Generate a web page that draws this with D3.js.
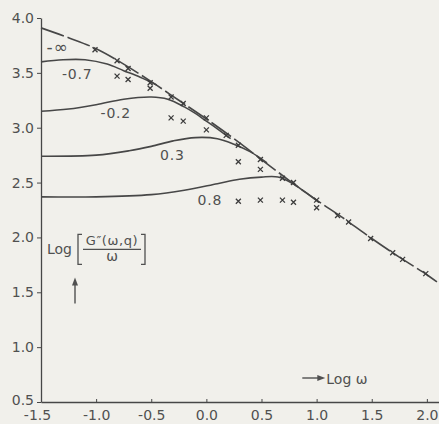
<!DOCTYPE html>
<html>
<head>
<meta charset="utf-8">
<script src="https://cdn.jsdelivr.net/npm/d3@7"></script>
<style>
  html, body { margin: 0; padding: 0; background: #f1f0eb; }
  svg { display: block; }
  text { font-family: "DejaVu Sans", sans-serif; fill: #505050; }
</style>
</head>
<body>
<svg id="chart" width="439" height="424"></svg>
<script>
// ---- data ----
const xTicks = [-1.5, -1.0, -0.5, 0.0, 0.5, 1.0, 1.5, 2.0];
const xTickLabels = ["-1.5", "-1.0", "-0.5", "0.0", "0.5", "1.0", "1.5", "2.0"];
const yTicks = [0.5, 1.0, 1.5, 2.0, 2.5, 3.0, 3.5, 4.0];
const yTickLabels = ["0.5", "1.0", "1.5", "2.0", "2.5", "3.0", "3.5", "4.0"];

// q = -infinity, broken line
const limitX = [-1.5, -1.25, -1.0, -0.75, -0.5, -0.25, 0.0, 0.25, 0.5, 0.75, 1.0, 1.25, 1.5, 1.75, 2.0, 2.11];
const limitY = [3.91, 3.82, 3.72, 3.58, 3.42, 3.25, 3.08, 2.90, 2.71, 2.52, 2.34, 2.17, 1.99, 1.82, 1.66, 1.58];

// solid curves, one per q
const qM07X = [-1.5, -1.3, -1.1, -0.9, -0.75, -0.6, -0.45];
const qM07Y = [3.60, 3.62, 3.62, 3.58, 3.52, 3.46, 3.39];
const qM02X = [-1.5, -1.25, -1.0, -0.75, -0.5, -0.35, -0.2, -0.1, 0.0, 0.1, 0.22];
const qM02Y = [3.15, 3.17, 3.21, 3.26, 3.28, 3.26, 3.19, 3.13, 3.06, 2.99, 2.90];
const q03X = [-1.5, -1.0, -0.7, -0.5, -0.3, -0.1, 0.1, 0.25, 0.4, 0.55];
const q03Y = [2.74, 2.75, 2.79, 2.83, 2.88, 2.91, 2.90, 2.85, 2.78, 2.68];
const q08X = [-1.5, -1.0, -0.5, -0.2, 0.1, 0.3, 0.5, 0.65, 0.8, 0.9, 1.02];
const q08Y = [2.37, 2.37, 2.39, 2.43, 2.49, 2.53, 2.55, 2.55, 2.48, 2.41, 2.32];

const curveNames = ["-0.7", "-0.2", "0.3", "0.8"];

// measured points (crosses)
const markX = [-1.01, -0.81, -0.71, -0.81, -0.71, -0.51, -0.51, -0.32, -0.21, -0.32, -0.21, 0.0, 0.0,
  0.18, 0.29, 0.29, 0.49, 0.49, 0.69, 0.79, 0.29, 0.49, 0.69, 0.79, 1.0, 1.0, 1.19, 1.29, 1.49, 1.69, 1.78, 1.99];
const markY = [3.71, 3.61, 3.54, 3.47, 3.44, 3.41, 3.36, 3.28, 3.22, 3.09, 3.06, 3.09, 2.98,
  2.93, 2.84, 2.69, 2.71, 2.62, 2.54, 2.50, 2.33, 2.34, 2.34, 2.32, 2.34, 2.27, 2.20, 2.14, 1.99, 1.86, 1.80, 1.67];

// ---- drawing ----
const ink = "#474747";
const textInk = "#505050";
const svg = d3.select("#chart");

const x = d3.scaleLinear().domain([-1.5, 2.11]).range([41, 439]);
const y = d3.scaleLinear().domain([0.5, 4.0]).range([402, 18]);

const zip = (xs, ys) => xs.map((v, i) => [v, ys[i]]);

// axes
const xAxis = svg.append("g")
	.attr("transform", "translate(0," + y(0.5) + ")")
	.call(d3.axisBottom(x)
		.tickValues(xTicks)
		.tickFormat((d, i) => xTickLabels[i])
		.tickSizeInner(-3)
		.tickSizeOuter(0)
		.tickPadding(10));
xAxis.select(".domain").attr("stroke", ink).attr("stroke-width", 1.3);
xAxis.selectAll(".tick line").attr("stroke", ink);
xAxis.selectAll(".tick text")
	.attr("font-size", "14px")
	.attr("font-family", "DejaVu Sans")
	.attr("fill", textInk)
	.attr("dx", (d, i) => i === 0 ? -4 : 0)
	.attr("dy", "0.6em");

const yAxis = svg.append("g")
	.attr("transform", "translate(" + x(-1.5) + ",0)")
	.call(d3.axisLeft(y)
		.tickValues(yTicks)
		.tickFormat((d, i) => yTickLabels[i])
		.tickSizeInner(4)
		.tickSizeOuter(0)
		.tickPadding(3));
yAxis.select(".domain").attr("stroke", ink).attr("stroke-width", 1.3);
yAxis.selectAll(".tick line").attr("stroke", ink);
yAxis.selectAll(".tick text")
	.attr("font-size", "14px")
	.attr("font-family", "DejaVu Sans")
	.attr("fill", textInk)
	.attr("dy", (d, i) => i === 0 ? "0.2em" : "0.32em");

// lines
const line = d3.line()
	.x(d => x(d[0]))
	.y(d => y(d[1]))
	.curve(d3.curveCatmullRom.alpha(0.5));

svg.append("path")
	.datum(zip(limitX, limitY))
	.attr("d", line)
	.attr("fill", "none")
	.attr("stroke", ink)
	.attr("stroke-width", 1.6)
	.attr("stroke-dasharray", "24,4");

const curves = [zip(qM07X, qM07Y), zip(qM02X, qM02Y), zip(q03X, q03Y), zip(q08X, q08Y)];
svg.append("g").selectAll("path")
	.data(curves)
	.enter().append("path")
		.attr("d", line)
		.attr("fill", "none")
		.attr("stroke", ink)
		.attr("stroke-width", 1.6);

// crosses
const s = 2.5;
svg.append("g").selectAll("path")
	.data(zip(markX, markY))
	.enter().append("path")
		.attr("d", d => {
			const cx = x(d[0]), cy = y(d[1]);
			return "M" + (cx - s) + "," + (cy - s) + "L" + (cx + s) + "," + (cy + s) +
				"M" + (cx - s) + "," + (cy + s) + "L" + (cx + s) + "," + (cy - s);
		})
		.attr("stroke", "#3c3c3c")
		.attr("stroke-width", 1.3);

// curve labels (anchored in data units, below-left of each curve)
const labelAt = [[-1.31, 3.44], [-0.96, 3.09], [-0.42, 2.71], [-0.08, 2.30]];
svg.append("g").selectAll("text")
	.data(curveNames)
	.enter().append("text")
		.attr("x", (d, i) => x(labelAt[i][0]))
		.attr("y", (d, i) => y(labelAt[i][1]))
		.attr("font-size", "14px")
		.attr("letter-spacing", "0.8px")
		.text(d => d);

svg.append("text")
	.attr("x", x(-1.45))
	.attr("y", y(3.68))
	.attr("font-size", "17px")
	.attr("letter-spacing", "1px")
	.text("-\u221e");

// y label: Log [ G''(w,q) / w ] with arrow
const yl = svg.append("g").attr("transform", "translate(" + x(-1.5) + "," + y(2.0) + ")");
yl.append("text").attr("x", 6).attr("y", 17).attr("font-size", "14px").text("Log");
yl.append("path")
	.attr("d", "M41,-3 h-4 v30 h4 M100,-3 h4 v30 h-4")
	.attr("fill", "none").attr("stroke", textInk).attr("stroke-width", 1.3);
yl.append("text").attr("x", 71).attr("y", 8).attr("text-anchor", "middle")
	.attr("font-size", "13px").attr("letter-spacing", "0.6px").text("G\u2033(\u03c9,q)");
yl.append("line").attr("x1", 42).attr("x2", 100).attr("y1", 12).attr("y2", 12)
	.attr("stroke", textInk).attr("stroke-width", 1.2);
yl.append("text").attr("x", 71).attr("y", 24).attr("text-anchor", "middle")
	.attr("font-size", "14px").text("\u03c9");
yl.append("line").attr("x1", 34).attr("x2", 34).attr("y1", 46).attr("y2", 66)
	.attr("stroke", textInk).attr("stroke-width", 1.4);
yl.append("path").attr("d", "M34,40 L31,48 L37,48 Z").attr("fill", textInk);

// x label: -> Log w
const xl = svg.append("g").attr("transform", "translate(" + x(0.87) + "," + y(0.5) + ")");
xl.append("line").attr("x1", 0).attr("x2", 17).attr("y1", -24).attr("y2", -24)
	.attr("stroke", textInk).attr("stroke-width", 1.4);
xl.append("path").attr("d", "M23,-24 L15,-27 L15,-21 Z").attr("fill", textInk);
xl.append("text").attr("x", 24).attr("y", -18).attr("font-size", "14px").text("Log \u03c9");
</script>
</body>
</html>
